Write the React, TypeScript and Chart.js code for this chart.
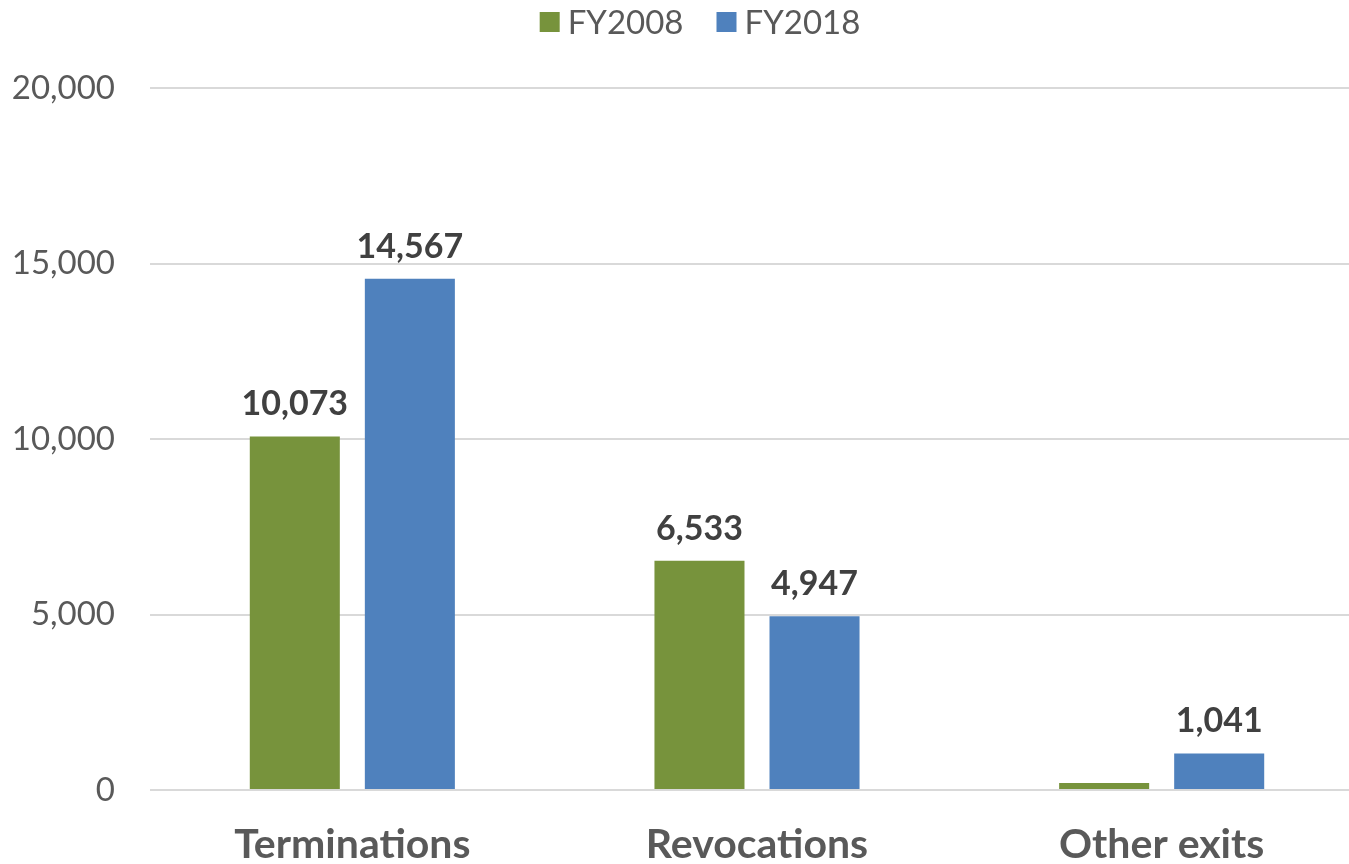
import React, { useEffect, useRef } from "react";
import { Chart, registerables } from "chart.js";

Chart.register(...registerables);

const categories = ["Terminations", "Revocations", "Other exits"];
const fy2008 = [10073, 6533, 200];
const fy2018 = [14567, 4947, 1041];
const labels2008 = ["10,073", "6,533", ""];
const labels2018 = ["14,567", "4,947", "1,041"];
const seriesNames = ["FY2008", "FY2018"];
const yTicks = [0, 5000, 10000, 15000, 20000];

const GREEN = "#77933C";
const BLUE = "#4F81BD";
const FONT = "Lato, 'Open Sans', sans-serif";

const dataLabelPlugin = {
  id: "dataLabels",
  afterDatasetsDraw(chart: any) {
    const ctx = chart.ctx;
    const all = [labels2008, labels2018];
    ctx.save();
    ctx.font = `bold 34px ${FONT}`;
    ctx.fillStyle = "#404040";
    ctx.textAlign = "center";
    ctx.textBaseline = "alphabetic";
    chart.data.datasets.forEach((_ds: any, di: number) => {
      const meta = chart.getDatasetMeta(di);
      meta.data.forEach((bar: any, i: number) => {
        const t = all[di][i];
        if (!t) return;
        ctx.fillText(t, bar.x, bar.y - 21);
      });
    });
    ctx.restore();
  },
};

const legendPlugin = {
  id: "customLegend",
  afterDraw(chart: any) {
    const ctx = chart.ctx;
    ctx.save();
    ctx.font = `33px ${FONT}`;
    const colors = [GREEN, BLUE];
    const box = 20;
    const gapText = 8;
    const gapItem = 33;
    const widths = seriesNames.map((n) => box + gapText + ctx.measureText(n).width);
    const total = widths.reduce((a, b) => a + b, 0) + gapItem * (widths.length - 1);
    let x = 700 - total / 2;
    const cy = 22;
    seriesNames.forEach((n, i) => {
      ctx.fillStyle = colors[i];
      ctx.fillRect(x, cy - box / 2, box, box);
      ctx.fillStyle = "#595959";
      ctx.textAlign = "left";
      ctx.textBaseline = "middle";
      ctx.fillText(n, x + box + gapText, cy + 1);
      x += widths[i] + gapItem;
    });
    ctx.restore();
  },
};

export default function App() {
  const ref = useRef<HTMLCanvasElement>(null);
  useEffect(() => {
    document.body.style.margin = "0";
    const chart = new Chart(ref.current!, {
      type: "bar",
      data: {
        labels: categories,
        datasets: [
          {
            label: seriesNames[0],
            data: fy2008,
            backgroundColor: GREEN,
            categoryPercentage: 0.5686,
            barPercentage: 0.7826,
          },
          {
            label: seriesNames[1],
            data: fy2018,
            backgroundColor: BLUE,
            categoryPercentage: 0.5686,
            barPercentage: 0.7826,
          },
        ],
      },
      options: {
        responsive: false,
        animation: false,
        layout: { padding: { top: 88, right: 0, bottom: 0, left: 0 } },
        plugins: {
          legend: { display: false },
          tooltip: { enabled: false },
        },
        scales: {
          x: {
            grid: { display: false, drawTicks: false },
            border: { display: false },
            ticks: {
              color: "#595959",
              font: { family: FONT, size: 41, weight: "bold" },
              padding: 30,
            },
            afterFit(scale: any) {
              scale.height = 74;
            },
          },
          y: {
            min: 0,
            max: 20000,
            afterBuildTicks(scale: any) {
              scale.ticks = yTicks.map((v) => ({ value: v }));
            },
            grid: { color: "#d9d9d9", lineWidth: 2, drawTicks: false },
            border: { display: false },
            ticks: {
              color: "#595959",
              font: { family: FONT, size: 33 },
              padding: 35,
              callback: (v: any) => Number(v).toLocaleString("en-US"),
            },
            afterFit(scale: any) {
              scale.width = 150;
            },
          },
        },
      },
      plugins: [dataLabelPlugin, legendPlugin],
    });
    return () => chart.destroy();
  }, []);
  return (
    <div style={{ width: 1349, height: 864, overflow: "hidden", position: "relative" }}>
      <canvas ref={ref} width={1364} height={864} style={{ display: "block" }} />
    </div>
  );
}
